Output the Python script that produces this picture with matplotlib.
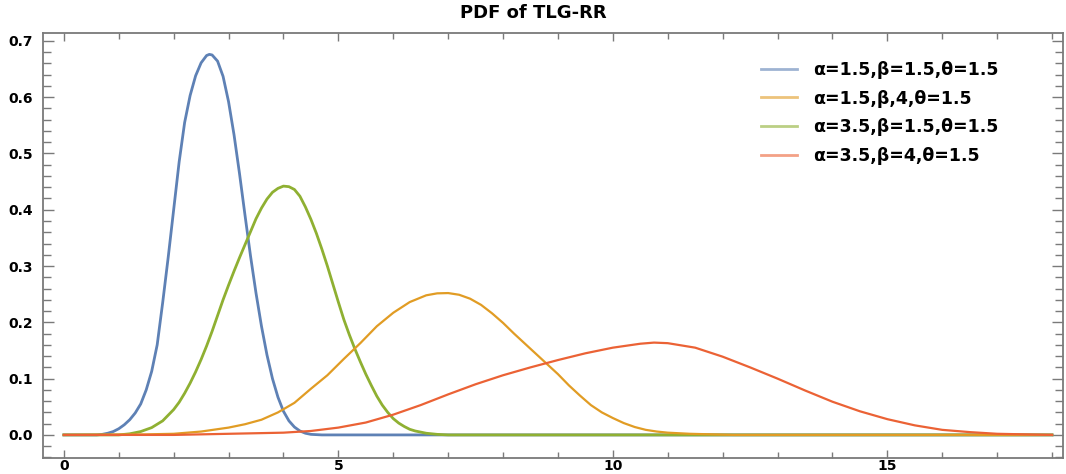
import numpy as np
import matplotlib
matplotlib.use('Agg')
import matplotlib.pyplot as plt
from matplotlib.ticker import MultipleLocator

# valores (x, pdf)
x_blue = [0.0, 0.6, 0.7, 0.8, 0.9, 1.0, 1.1, 1.2, 1.3, 1.4, 1.5, 1.6, 1.7, 1.8, 1.9, 2.0,
          2.1, 2.2, 2.3, 2.4, 2.5, 2.6, 2.65, 2.7, 2.8, 2.9, 3.0, 3.1, 3.2, 3.3, 3.4, 3.5,
          3.6, 3.7, 3.8, 3.9, 4.0, 4.1, 4.2, 4.3, 4.4, 4.5, 4.7, 18.0]
y_blue = [0.0, 0.0, 0.001, 0.003, 0.006, 0.011, 0.018, 0.027, 0.039, 0.055, 0.08, 0.113,
          0.16, 0.235, 0.315, 0.4, 0.485, 0.555, 0.603, 0.638, 0.661, 0.674, 0.676, 0.675,
          0.664, 0.637, 0.592, 0.533, 0.464, 0.39, 0.318, 0.252, 0.193, 0.142, 0.1, 0.067,
          0.042, 0.025, 0.014, 0.007, 0.003, 0.001, 0.0, 0.0]

x_orange = [0.0, 1.5, 2.0, 2.5, 3.0, 3.3, 3.6, 3.9, 4.2, 4.5, 4.8, 5.1, 5.4, 5.7, 6.0, 6.3,
            6.6, 6.8, 7.0, 7.2, 7.4, 7.6, 7.8, 8.0, 8.2, 8.4, 8.6, 8.8, 9.0, 9.2, 9.4, 9.6,
            9.8, 10.0, 10.2, 10.4, 10.6, 10.8, 11.0, 11.4, 11.8, 12.2, 18.0]
y_orange = [0.0, 0.001, 0.002, 0.006, 0.013, 0.019, 0.027, 0.04, 0.057, 0.082, 0.106, 0.135,
            0.163, 0.193, 0.217, 0.236, 0.248, 0.2515, 0.252, 0.249, 0.242, 0.231, 0.216,
            0.199, 0.18, 0.162, 0.144, 0.126, 0.108, 0.088, 0.07, 0.053, 0.04, 0.03, 0.021,
            0.014, 0.009, 0.006, 0.004, 0.002, 0.001, 0.0, 0.0]

x_green = [0.0, 1.0, 1.2, 1.4, 1.6, 1.8, 2.0, 2.1, 2.2, 2.3, 2.4, 2.5, 2.6, 2.7, 2.8, 2.9,
           3.0, 3.1, 3.2, 3.3, 3.4, 3.5, 3.6, 3.7, 3.8, 3.9, 4.0, 4.1, 4.2, 4.3, 4.4, 4.5,
           4.6, 4.7, 4.8, 4.9, 5.0, 5.1, 5.2, 5.3, 5.4, 5.5, 5.6, 5.7, 5.8, 5.9, 6.0, 6.1,
           6.2, 6.3, 6.4, 6.6, 6.8, 7.0, 18.0]
y_green = [0.0, 0.0, 0.002, 0.006, 0.013, 0.025, 0.045, 0.058, 0.074, 0.092, 0.112, 0.134,
           0.158, 0.184, 0.212, 0.24, 0.266, 0.291, 0.315, 0.338, 0.361, 0.384, 0.403, 0.419,
           0.431, 0.438, 0.442, 0.441, 0.436, 0.424, 0.405, 0.383, 0.358, 0.33, 0.3, 0.268,
           0.236, 0.205, 0.178, 0.153, 0.13, 0.108, 0.088, 0.069, 0.053, 0.04, 0.029, 0.021,
           0.015, 0.01, 0.007, 0.003, 0.001, 0.0, 0.0]

x_red = [0.0, 2.0, 3.0, 3.5, 4.0, 4.5, 5.0, 5.5, 6.0, 6.5, 7.0, 7.5, 8.0, 8.5, 9.0, 9.5,
         10.0, 10.5, 10.75, 11.0, 11.5, 12.0, 12.5, 13.0, 13.5, 14.0, 14.5, 15.0, 15.5,
         16.0, 16.5, 17.0, 17.5, 18.0]
y_red = [0.0, 0.0, 0.002, 0.003, 0.004, 0.007, 0.013, 0.022, 0.036, 0.053, 0.072, 0.09,
         0.106, 0.12, 0.133, 0.145, 0.155, 0.162, 0.164, 0.163, 0.155, 0.139, 0.12, 0.1,
         0.079, 0.059, 0.042, 0.028, 0.017, 0.009, 0.005, 0.002, 0.001, 0.0]

labels = ['α=1.5,β=1.5,θ=1.5', 'α=1.5,β,4,θ=1.5', 'α=3.5,β=1.5,θ=1.5', 'α=3.5,β=4,θ=1.5']
colors = ['#5E81B5', '#E19C24', '#8FB032', '#EB6235']

fig = plt.figure(figsize=(10.66, 4.74), dpi=100)
ax = fig.add_axes([43 / 1066, 1 - 458 / 474, 1020 / 1066, 425 / 474])

ax.plot(x_blue, y_blue, color=colors[0], lw=2.0, label=labels[0], zorder=2)
ax.plot(x_orange, y_orange, color=colors[1], lw=1.6, label=labels[1], zorder=4)
ax.plot(x_green, y_green, color=colors[2], lw=2.0, label=labels[2], zorder=3)
ax.plot(x_red, y_red, color=colors[3], lw=1.6, label=labels[3], zorder=5)

ax.set_xlim(-0.38, 18.2)
ax.set_ylim(-0.041, 0.714)

ax.xaxis.set_major_locator(MultipleLocator(5))
ax.xaxis.set_minor_locator(MultipleLocator(1))
ax.yaxis.set_major_locator(MultipleLocator(0.1))
ax.yaxis.set_minor_locator(MultipleLocator(0.02))
ax.xaxis.set_major_formatter(lambda v, p: '%d' % v)
ax.yaxis.set_major_formatter(lambda v, p: '%.1f' % v)

gris = '#7a7a7a'
for s in ax.spines.values():
    s.set_color(gris)
    s.set_linewidth(1.3)
ax.tick_params(which='both', direction='in', top=True, right=True, color=gris, width=1.0)
ax.tick_params(axis='x', which='major', length=5.5)
ax.tick_params(axis='x', which='minor', length=4)
ax.tick_params(axis='y', which='major', length=8)
ax.tick_params(axis='y', which='minor', length=6)
for lab in ax.get_xticklabels() + ax.get_yticklabels():
    lab.set_fontweight('bold')
    lab.set_fontsize(10)
    lab.set_fontfamily('DejaVu Sans')
ax.tick_params(axis='x', pad=1)
ax.tick_params(axis='y', pad=7)

leg = ax.legend(loc='upper left', bbox_to_anchor=(0.695, 0.955), frameon=False,
                prop={'family': 'DejaVu Sans', 'weight': 'bold', 'size': 12.5},
                handlelength=2.1, handletextpad=0.95, labelspacing=0.62, borderpad=0)
for h in leg.get_lines():
    h.set_linewidth(2.0)
    h.set_alpha(0.6)

fig.text(0.5, 1 - 13 / 474, 'PDF of TLG-RR', ha='center', va='center',
         fontsize=13, fontweight='bold', family='DejaVu Sans')

fig.savefig('out.png', dpi=100)
